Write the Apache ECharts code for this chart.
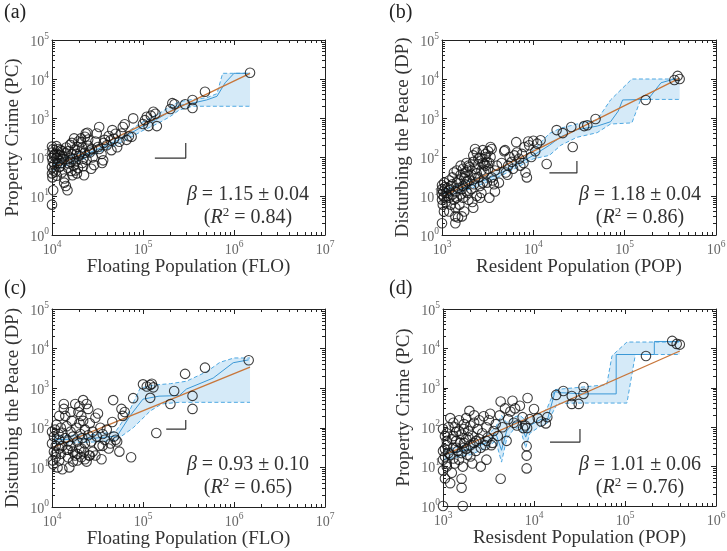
<!DOCTYPE html>
<html><head><meta charset="utf-8">
<script src="https://cdn.jsdelivr.net/npm/echarts@6/dist/echarts.min.js"></script>
<style>html,body{margin:0;padding:0;background:#fff}#c{width:727px;height:551px}</style>
</head><body><div id="c"></div>
<script>
// ---------------- data (raw values, log-log) ----------------
const xExpFLO = [4, 5, 6, 7];
const xExpPOP = [3, 4, 5, 6];
const yExp = [0, 1, 2, 3, 4, 5];

// (a) Property Crime vs Floating Population
const aPoints = [[10000,6],[10300,14],[10100,30],[10000,38],[10400,45],[10000,55],[10600,65],[10200,75],[10000,95],[10500,110],[10100,130],[10300,160],[10000,185],
[11000,42],[11300,33],[11200,95],[11700,115],[12000,80],[12400,58],[11200,190],[12500,150],[13000,105],[13300,88],[12800,40],[13700,28],[14200,18],[14800,14],[13600,22],[13800,125],[14300,175],[11500,140],[12000,55],[12700,70],[11800,160],[13000,140],[10800,120],[11500,70],[12200,110],
[15000,52],[15300,68],[15800,95],[16300,44],[16800,34],[17300,60],[15800,205],[16800,118],[17800,155],[18300,78],[18800,38],[19300,52],[19800,108],[19500,250],[15000,140],[16000,75],[17000,90],[18000,45],[18500,120],[19000,180],[17500,300],[16500,230],
[20800,300],[21500,175],[22000,58],[22500,34],[23000,128],[23500,400],[24500,420],[24000,85],[25000,195],[26000,148],[27000,50],[28000,98],[29000,62],[21000,240],[22000,90],[23000,330],[25000,280],[26000,130],[27500,160],[20500,130],[21500,70],
[30000,250],[31000,400],[32000,180],[33000,590],[35000,120],[35500,70],[36500,82],[38000,275],[40000,200],[42000,345],[45000,150],[46000,490],[48000,295],[50000,395],[33000,160],[37000,230],[44000,270],
[52000,178],[55000,245],[60000,590],[63000,690],[66000,275],[70000,340],[78000,980],[75000,330],[58000,400],
[100000,700],[105000,880],[110000,1080],[115000,620],[122000,1150],[130000,1450],[137000,1280],[142000,620],[200000,1700],[210000,2400],[222000,2250],[290000,2250],[350000,2900],[350000,1800],[480000,4700],[1500000,14500]];
const aFitX = [10000, 1500000];
const aFitY = [52, 14000];
const aMidX = [10000, 20000, 30000, 50000, 70000, 100000, 150000, 200000, 250000, 350000, 500000, 650000, 800000, 1000000, 1500000];
const aMidY = [60, 100, 150, 250, 380, 620, 1000, 1500, 2100, 2400, 2900, 3600, 8000, 14000, 14000];
const aHiX = [10000, 20000, 30000, 50000, 70000, 100000, 150000, 200000, 250000, 350000, 500000, 650000, 750000, 1000000, 1500000];
const aHiY = [80, 125, 185, 310, 470, 800, 1300, 2000, 2600, 3000, 3300, 4200, 14000, 14000, 14000];
const aLoX = [10000, 20000, 30000, 50000, 70000, 100000, 150000, 200000, 250000, 350000, 1500000];
const aLoY = [45, 80, 120, 200, 300, 480, 750, 1100, 1600, 2000, 2000];
const aMarkX = [135000, 295000, 295000];
const aMarkY = [94, 94, 230];

// (b) Disturbing the Peace vs Resident Population
const bPoints = [[1000,2],[1020,6],[1000,8],[1050,9.5],[1000,11],[1030,13],[1000,15],[1080,17],[1000,19],[1060,22],[1100,7],[1100,12],[1050,4],
[1150,10],[1150,16],[1200,4],[1200,9],[1200,14],[1200,25],[1250,18],[1250,6],[1300,11],[1300,30],[1300,20],[1350,8],[1350,40],[1400,3],[1400,5],[1400,13],[1400,2],[1450,22],[1450,45],[1450,9],[1500,2.8],[1500,16],
[1550,25],[1550,6],[1600,35],[1600,11],[1650,15],[1650,3],[1700,50],[1700,9],[1750,4],[1750,28],[1800,20],[1800,32],[1850,70],[1850,13],[1900,12],[1900,45],[1950,8],[1950,60],[2000,25],[2000,55],[1600,60],[1700,18],[1800,40],[1900,24],
[2100,35],[2100,15],[2150,7],[2200,5],[2200,75],[2250,20],[2300,50],[2300,28],[2400,10],[2400,38],[2500,30],[2500,65],[2600,18],[2600,9],[2700,12],[2700,45],[2800,70],[2800,22],[2900,40],[2900,65],[2200,110],[2400,130],[2600,95],[2800,150],[3000,120],[2300,160],[2500,90],
[3000,60],[3000,100],[3100,22],[3100,75],[3200,140],[3200,50],[3300,9],[3300,70],[3400,180],[3500,160],[3500,30],[3600,25],[3700,20],[3800,13],[4000,60],[4200,22],[4500,70],[4800,140],[4900,150],[3400,100],[3800,45],
[5000,40],[5200,35],[5500,100],[5800,75],[6000,50],[6500,240],[6600,130],[7000,90],[7500,120],[7800,70],[8000,180],[8200,40],[8500,30],[8800,250],[9000,200],[9500,100],[5300,60],[6200,110],[7200,60],
[10000,260],[11000,220],[12000,270],[10500,140],[14000,66],[18000,490],[21000,410],[26000,590],[27000,180],[36000,620],[39000,650],[48000,940],[170000,2900],[350000,9400],[380000,12000],[400000,10000]];
const bFitX = [1000, 400000];
const bFitY = [9.5, 10500];
const bMidX = [1000, 2000, 3000, 5000, 10000, 15000, 20000, 30000, 50000, 70000, 85000, 95000, 180000, 250000, 350000, 400000];
const bMidY = [11, 18, 26, 45, 110, 200, 330, 500, 620, 800, 1500, 2900, 3000, 8000, 10000, 10000];
const bHiX = [1000, 2000, 3000, 5000, 10000, 15000, 20000, 30000, 50000, 70000, 120000, 400000];
const bHiY = [14, 24, 34, 60, 150, 400, 550, 700, 900, 2900, 10000, 10000];
const bLoX = [1000, 2000, 3000, 5000, 10000, 15000, 20000, 30000, 50000, 70000, 120000, 150000, 400000];
const bLoY = [9, 15, 22, 38, 90, 110, 200, 320, 420, 700, 750, 3000, 3000];
const bMarkX = [15000, 30000, 30000];
const bMarkY = [39, 39, 79];

// (c) Disturbing the Peace vs Floating Population
const cPoints = [[10000,80],[10000,40],[10200,15],[10300,12],[10500,25],[10500,60],[10800,90],[11000,18],[11000,35],[11200,120],[11500,10],[11800,70],[12000,50],[12000,30],[12500,22],[12500,100],[13000,75],[13000,9],[13500,400],[13500,300],[14000,200],[14000,55],[14500,110],[14500,28],[15000,45],[15000,18],[15500,10],[16000,80],[16000,35],[16500,150],[17000,25],[17000,60],[18000,400],[18000,20],[18500,100],[19000,15],[19000,45],[19500,250],[20000,350],[20000,30],[20500,70],[21000,18],[21000,200],[21500,55],[22000,500],[22000,150],[22500,25],[23000,90],[23000,40],[24000,400],[24000,14],[25000,300],[25000,65],[25500,20],[26000,130],[27000,45],[28000,25],[28000,80],[30000,180],[31000,60],[32000,230],[33000,35],[34000,100],[35000,16],[36000,70],[38000,50],[40000,90],[42000,30],[44000,40],[46000,140],[47000,500],[48000,60],[50000,50],[52000,45],[55000,25],[58000,300],[60000,200],[63000,250],[74000,18],[78000,560],
[11000,22],[12000,15],[13000,35],[15000,28],[17000,14],[19000,22],[21000,30],[23000,16],[12000,200],[16000,250],[20000,130],[26000,20],[30000,20],[36000,35],
[100000,1250],[110000,1100],[120000,1200],[125000,1300],[130000,1050],[120000,570],[140000,74],[200000,400],[220000,850],[290000,2300],[350000,640],[350000,300],[480000,3300],[1450000,5100]];
const cFitX = [10000, 1500000];
const cFitY = [31, 3400];
const cMidX = [10000, 20000, 30000, 52000, 72000, 100000, 150000, 250000, 300000, 590000, 980000, 1450000];
const cMidY = [50, 52, 55, 62, 200, 530, 630, 650, 950, 1800, 4400, 5200];
const cHiX = [10000, 30000, 50000, 70000, 93000, 130000, 200000, 300000, 500000, 700000, 1000000, 1500000];
const cHiY = [62, 68, 80, 250, 1000, 1200, 1300, 1500, 2600, 4500, 5800, 5800];
const cLoX = [10000, 30000, 50000, 78000, 120000, 160000, 250000, 1500000];
const cLoY = [40, 44, 48, 100, 265, 400, 440, 440];
const cMarkX = [180000, 295000, 295000];
const cMarkY = [93, 93, 157];

// (d) Property Crime vs Resident Population
const dPoints = [[1000,1],[1650,1],[1200,3.8],[1600,4.9],[1600,2.9],[1050,5],[1000,8],[1100,10],[1000,15],[1050,18],[1000,25],[1100,35],[1050,60],[1000,90],[1150,100],[1200,170],[1100,12],[1200,20],[1250,7],[1300,30],[1300,60],[1350,12],[1350,100],[1400,45],[1400,75],[1450,25],[1500,15],[1500,150],[1550,40],[1600,65],[1650,10],[1700,120],[1700,30],[1800,50],[1800,170],[1850,20],[1900,80],[1950,260],[2000,35],[2000,110],[2100,12],[2100,60],[2200,40],[2200,200],[2300,25],[2400,90],[2500,150],[2500,50],[2600,10],[2700,70],[2800,190],[2900,35],[3000,100],[3000,15],[3100,55],[3200,150],[3300,220],[3500,40],[3600,80],[3800,120],[4000,60],[4200,200],[4300,450],[4300,4.9],[4500,100],[4800,300],[5000,45],[5200,160],[5500,250],[5800,470],[6000,130],[6200,300],[6500,110],[7000,350],[7500,180],[7600,95],[8000,110],[8300,33],[8300,19],[8300,9],[8400,95],[8500,550],[9000,160],[10000,290],[11000,170],[12000,140],[13500,125],[14000,180],
[1050,28],[1100,45],[1150,22],[1250,50],[1300,16],[1400,30],[1500,80],[1600,22],[1700,40],[1800,28],[1900,55],[2000,18],[2300,45],[2600,30],[3000,45],[3400,35],[2200,130],[1300,130],[1100,70],[1700,90],
[17500,660],[21000,830],[26000,390],[26000,620],[31000,390],[35000,1050],[35000,700],[170000,6400],[330000,15500],[370000,13000],[400000,12500]];
const dFitX = [1000, 400000];
const dFitY = [19, 8600];
const dMidX = [1000, 2000, 3000, 3800, 4400, 5000, 6000, 7000, 8100, 9000, 12000, 14000, 17000, 20000, 35000, 80000, 80000, 210000, 210000, 400000];
const dMidY = [20, 28, 40, 70, 26, 80, 130, 140, 56, 110, 160, 150, 800, 750, 700, 700, 7000, 7000, 15000, 15000];
const dHiX = [1000, 2000, 3000, 3800, 4400, 5000, 6000, 7000, 8100, 9000, 12500, 14000, 17000, 35000, 63000, 72000, 105000, 400000];
const dHiY = [26, 38, 60, 100, 200, 130, 180, 200, 150, 180, 230, 310, 900, 1050, 1200, 6500, 14500, 14500];
const dLoX = [1000, 2000, 3000, 3800, 4400, 5000, 6000, 7000, 8100, 9000, 12000, 14000, 18000, 30000, 105000, 130000, 400000];
const dLoY = [15, 20, 30, 45, 13, 50, 90, 100, 30, 70, 110, 127, 400, 410, 410, 7000, 7000];
const dMarkX = [15000, 32000, 32000];
const dMarkY = [42, 42, 90];

// ---------------- build ----------------
const F = 'Liberation Serif';
const L = Math.log10;
const zip = (xs, ys) => xs.map((x, i) => [L(x), L(ys[i])]);
const logPts = pts => pts.map(p => [L(p[0]), L(p[1])]);

const panels = [
  {label:'(a)', lab:[4,13], grid:{left:52, top:40, width:273, height:195}, xExp:xExpFLO, xName:'Floating Population (FLO)', yName:'Property Crime (PC)',
   pts:aPoints, fit:zip(aFitX,aFitY), mid:zip(aMidX,aMidY), hi:zip(aHiX,aHiY), lo:zip(aLoX,aLoY), mark:zip(aMarkX,aMarkY), beta:'1.15 ± 0.04', r2:'0.84', tx:248, ty:195},
  {label:'(b)', lab:[389,13], grid:{left:442, top:40, width:274, height:195}, xExp:xExpPOP, xName:'Resident Population (POP)', yName:'Disturbing the Peace (DP)',
   pts:bPoints, fit:zip(bFitX,bFitY), mid:zip(bMidX,bMidY), hi:zip(bHiX,bHiY), lo:zip(bLoX,bLoY), mark:zip(bMarkX,bMarkY), beta:'1.18 ± 0.04', r2:'0.86', tx:640, ty:195},
  {label:'(c)', lab:[4,289], grid:{left:52, top:309, width:273, height:198}, xExp:xExpFLO, xName:'Floating Population (FLO)', yName:'Disturbing the Peace (DP)',
   pts:cPoints, fit:zip(cFitX,cFitY), mid:zip(cMidX,cMidY), hi:zip(cHiX,cHiY), lo:zip(cLoX,cLoY), mark:zip(cMarkX,cMarkY), beta:'0.93 ± 0.10', r2:'0.65', tx:248, ty:465},
  {label:'(d)', lab:[389,289], grid:{left:443, top:309, width:273, height:197}, xExp:xExpPOP, xName:'Resisdent Population (POP)', yName:'Property Crime (PC)',
   pts:dPoints, fit:zip(dFitX,dFitY), mid:zip(dMidX,dMidY), hi:zip(dHiX,dHiY), lo:zip(dLoX,dLoY), mark:zip(dMarkX,dMarkY), beta:'1.01 ± 0.06', r2:'0.76', tx:640, ty:465}
];

function minors(exps) {
  const out = [];
  for (let i = 0; i < exps.length - 1; i++) for (let k = 2; k <= 9; k++) out.push(exps[i] + L(k));
  return out;
}
const AX = '#222';
const tickRich = {
  b: {fontFamily:F, fontSize:14, color:'#666', lineHeight:18, verticalAlign:'bottom'},
  s: {fontFamily:F, fontSize:9.5, color:'#666', lineHeight:18, verticalAlign:'top'}
};
const fmt = v => '{b|10}{s|' + Math.round(v) + '}';
const nameStyle = {fontFamily:F, fontSize:19, color:'#333'};

const grids = [], xAxes = [], yAxes = [], series = [], graphics = [];
const BLUE = '#3b98d6', DASH = '#4ea8e2', FILL = '#d5eaf8', ORANGE = '#c8763a';

panels.forEach((p, i) => {
  grids.push(Object.assign({containLabel:false, outerBoundsMode:'none'}, p.grid));
  const xmin = p.xExp[0], xmax = p.xExp[p.xExp.length-1];
  const ymin = yExp[0], ymax = yExp[yExp.length-1];
  const base = {gridIndex:i, type:'value', interval:1, splitLine:{show:false}, z:10};
  const line = {show:true, onZero:false, lineStyle:{color:AX, width:1}};
  const noLine = {show:false, onZero:false};
  const majTick = {show:true, inside:true, length:5, lineStyle:{color:AX, width:1}};
  const minTickX = {show:true, inside:true, length:3, lineStyle:{color:AX, width:1}, customValues:minors(p.xExp)};
  const minTickY = {show:true, inside:true, length:3, lineStyle:{color:AX, width:1}, customValues:minors(yExp)};
  // x axes
  xAxes.push(Object.assign({}, base, {position:'bottom', min:xmin, max:xmax, axisLine:line, axisTick:majTick,
    axisLabel:{formatter:fmt, rich:tickRich, margin:4},
    name:p.xName, nameLocation:'middle', nameGap:22, nameTextStyle:nameStyle}));
  xAxes.push(Object.assign({}, base, {position:'bottom', min:xmin, max:xmax, axisLine:noLine, axisTick:minTickX, axisLabel:{show:false}}));
  xAxes.push(Object.assign({}, base, {position:'top', min:xmin, max:xmax, axisLine:line, axisTick:majTick, axisLabel:{show:false}}));
  xAxes.push(Object.assign({}, base, {position:'top', min:xmin, max:xmax, axisLine:noLine, axisTick:minTickX, axisLabel:{show:false}}));
  // y axes
  yAxes.push(Object.assign({}, base, {position:'left', min:ymin, max:ymax, axisLine:line, axisTick:majTick,
    axisLabel:{formatter:fmt, rich:tickRich, margin:3},
    name:p.yName, nameLocation:'middle', nameGap:29, nameTextStyle:nameStyle}));
  yAxes.push(Object.assign({}, base, {position:'left', min:ymin, max:ymax, axisLine:noLine, axisTick:minTickY, axisLabel:{show:false}}));
  yAxes.push(Object.assign({}, base, {position:'right', min:ymin, max:ymax, axisLine:line, axisTick:majTick, axisLabel:{show:false}}));
  yAxes.push(Object.assign({}, base, {position:'right', min:ymin, max:ymax, axisLine:noLine, axisTick:minTickY, axisLabel:{show:false}}));

  const xi = i*4, yi = i*4;
  const hi = p.hi, lo = p.lo;
  series.push({type:'custom', xAxisIndex:xi, yAxisIndex:yi, z:1, silent:true, data:[[hi[0][0], hi[0][1]]],
    renderItem: (params, api) => {
      const pts = hi.map(q => api.coord(q)).concat(lo.slice().reverse().map(q => api.coord(q)));
      return {type:'polygon', shape:{points:pts}, style:{fill:FILL, stroke:null}};
    }});
  const ln = (data, color, width, type, z) => ({type:'line', xAxisIndex:xi, yAxisIndex:yi, data, symbol:'none', z, silent:true,
    lineStyle:{color, width, type}});
  series.push(ln(hi, DASH, 1, [4,2.5], 2));
  series.push(ln(lo, DASH, 1, [4,2.5], 2));
  series.push(ln(p.mid, BLUE, 1, 'solid', 3));
  series.push(ln(p.fit, ORANGE, 1.3, 'solid', 4));
  series.push(ln(p.mark, '#333', 1.2, 'solid', 4));
  series.push({type:'scatter', xAxisIndex:xi, yAxisIndex:yi, data:logPts(p.pts), symbol:'circle', symbolSize:9.5, z:5, silent:true,
    itemStyle:{color:'rgba(0,0,0,0)', borderColor:'#111', borderWidth:1.1}});

  graphics.push({type:'text', x:p.lab[0], y:p.lab[1], style:{text:p.label, fontFamily:F, fontSize:20, fill:'#222', verticalAlign:'middle'}});
  graphics.push({type:'text', x:p.tx, y:p.ty, style:{text:'{i|β}{n| = ' + p.beta + '}', align:'center', verticalAlign:'middle',
    rich:{i:{fontFamily:F, fontSize:20, fontStyle:'italic', fill:'#333', lineHeight:24}, n:{fontFamily:F, fontSize:20, fill:'#333', lineHeight:24}}}});
  graphics.push({type:'text', x:p.tx, y:p.ty+23, style:{text:'{n|(}{i|R}{s|2}{n| = ' + p.r2 + ')}', align:'center', verticalAlign:'middle',
    rich:{i:{fontFamily:F, fontSize:20, fontStyle:'italic', fill:'#333', lineHeight:24, verticalAlign:'middle'},
          n:{fontFamily:F, fontSize:20, fill:'#333', lineHeight:24, verticalAlign:'middle'},
          s:{fontFamily:F, fontSize:13, fill:'#333', lineHeight:24, verticalAlign:'top'}}}});
});

const chart = echarts.init(document.getElementById('c'), null, {renderer:'canvas'});
chart.setOption({animation:false, backgroundColor:'#fff', grid:grids, xAxis:xAxes, yAxis:yAxes, series, graphic:graphics});
</script></body></html>
